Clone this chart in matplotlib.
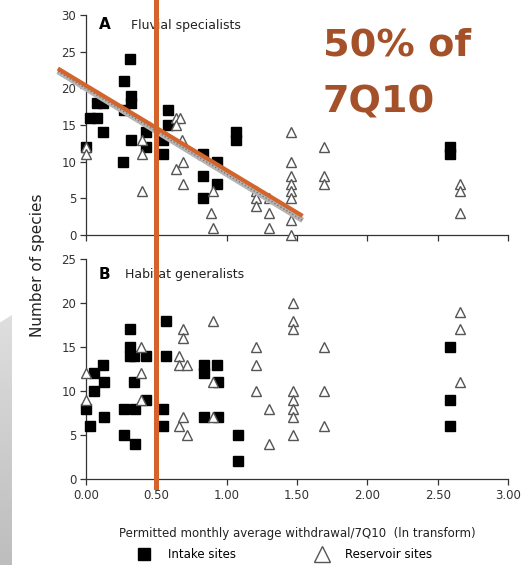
import matplotlib
matplotlib.use("Agg")
import matplotlib.pyplot as plt
import numpy as np
from matplotlib.lines import Line2D
from matplotlib.patches import Polygon
from matplotlib.transforms import blended_transform_factory

plt.rcParams["font.family"] = ["DejaVu Sans"]

# panel A: fluvial specialists
a_intake_x = [0.0, 0.03, 0.08, 0.08, 0.12, 0.12, 0.26, 0.27, 0.31, 0.32, 0.32, 0.27, 0.32,
              0.43, 0.43, 0.55, 0.55, 0.58, 0.58, 0.83, 0.83, 0.83, 0.93, 0.93, 1.07, 1.07,
              2.59, 2.59]
a_intake_y = [12, 16, 16, 18, 18, 14, 10, 21, 24, 19, 18, 17, 13,
              14, 12, 11, 13, 15, 17, 11, 8, 5, 10, 7, 14, 13,
              12, 11]
a_res_x = [0.0, 0.0, 0.40, 0.40, 0.40, 0.64, 0.67, 0.64, 0.68, 0.69, 0.64, 0.69,
           0.90, 0.89, 0.90, 1.21, 1.21, 1.21, 1.30, 1.30, 1.30,
           1.46, 1.46, 1.46, 1.46, 1.46, 1.46, 1.46, 1.46,
           1.69, 1.69, 1.69, 2.66, 2.66, 2.66]
a_res_y = [12, 11, 13, 11, 6, 16, 16, 15, 13, 10, 9, 7,
           6, 3, 1, 6, 5, 4, 5, 3, 1,
           14, 10, 8, 7, 6, 5, 2, 0,
           12, 8, 7, 7, 6, 3]

# panel B: habitat generalists
b_intake_x = [0.0, 0.03, 0.06, 0.06, 0.12, 0.13, 0.13, 0.27, 0.27, 0.31, 0.31, 0.31,
              0.34, 0.34, 0.35, 0.35, 0.43, 0.43, 0.55, 0.55, 0.57, 0.57,
              0.84, 0.84, 0.84, 0.93, 0.94, 0.94, 1.08, 1.08, 2.59, 2.59, 2.59]
b_intake_y = [8, 6, 12, 10, 13, 11, 7, 8, 5, 17, 15, 14,
              14, 11, 8, 4, 14, 9, 8, 6, 18, 14,
              13, 12, 7, 13, 11, 7, 5, 2, 15, 9, 6]
b_res_x = [0.0, 0.0, 0.39, 0.39, 0.39, 0.66, 0.66, 0.66, 0.69, 0.69, 0.69, 0.72, 0.72,
           0.90, 0.90, 0.90, 1.21, 1.21, 1.21, 1.30, 1.30,
           1.47, 1.47, 1.47, 1.47, 1.47, 1.47, 1.47, 1.47,
           1.69, 1.69, 1.69, 2.66, 2.66, 2.66]
b_res_y = [12, 9, 15, 12, 9, 14, 13, 6, 17, 16, 7, 13, 5,
           18, 11, 7, 15, 13, 10, 8, 4,
           20, 18, 17, 10, 9, 8, 7, 5,
           15, 10, 6, 19, 17, 11]

# regression band (grey) and the hand-drawn orange overlay in panel A
fit_x = [-0.2, 1.54]
fit_y = [22.3, 2.0]
orange_x = [-0.2, 1.54]
orange_y = [22.7, 2.6]
cutoff = 0.5

ORANGE = "#d2642c"
TEXT_ORANGE = "#a4512a"

fig = plt.figure(figsize=(5.23, 5.65), dpi=100)
axA = fig.add_axes([0.1644, 0.584, 0.8069, 0.3895])
axB = fig.add_axes([0.1644, 0.1522, 0.8069, 0.3894])

sq = dict(marker="s", color="black", markersize=7.5, linestyle="none", zorder=3)
tri = dict(marker="^", markerfacecolor="white", markeredgecolor="#555555",
           markeredgewidth=1.0, markersize=7, linestyle="none", zorder=4)

for ax, ymax in [(axA, 30), (axB, 25)]:
    ax.set_xlim(0, 3)
    ax.set_ylim(0, ymax)
    ax.set_xticks(np.arange(0, 3.01, 0.5))
    ax.set_yticks(np.arange(0, ymax + 1, 5))
    for s in ["top", "right"]:
        ax.spines[s].set_visible(False)
    for s in ["left", "bottom"]:
        ax.spines[s].set_color("#333333")
        ax.spines[s].set_linewidth(0.9)
    ax.tick_params(colors="#333333", labelsize=8.5, length=4, width=0.9, pad=3)
    ax.patch.set_alpha(0)

axA.tick_params(axis="x", labelbottom=False)
axB.set_xticklabels(["0.00", "0.50", "1.00", "1.50", "2.00", "2.50", "3.00"])

axA.plot(a_intake_x, a_intake_y, clip_on=False, **sq)
axA.plot(a_res_x, a_res_y, clip_on=False, **tri)
axB.plot(b_intake_x, b_intake_y, clip_on=False, **sq)
axB.plot(b_res_x, b_res_y, clip_on=False, **tri)

axA.plot(fit_x, fit_y, color="#b5b5b5", lw=4, clip_on=False, zorder=5,
         solid_capstyle="butt")
axA.plot(fit_x, fit_y, color="#777777", lw=1, ls=(0, (1, 1.5)), clip_on=False, zorder=5)
axA.plot(orange_x, orange_y, color=ORANGE, lw=3, clip_on=False, zorder=6,
         solid_capstyle="butt")

axA.text(0.03, 0.955, "A", transform=axA.transAxes, fontsize=11, fontweight="bold",
         va="center")
axA.text(0.107, 0.95, "Fluvial specialists", transform=axA.transAxes, fontsize=9,
         va="center", color="#222222")
axB.text(0.03, 0.93, "B", transform=axB.transAxes, fontsize=11, fontweight="bold",
         va="center")
axB.text(0.093, 0.93, "Habitat generalists", transform=axB.transAxes, fontsize=9,
         va="center", color="#222222")

fig.text(0.071, 0.53, "Number of species", rotation=90, fontsize=11, va="center",
         ha="center", color="#222222")
axB.set_xlabel("Permitted monthly average withdrawal/7Q10  (ln transform)",
               fontsize=8.5, color="#222222", labelpad=18)

# vertical cutoff line across both panels
vline = Line2D([cutoff, cutoff], [1 - 487 / 565, 1.0], color=ORANGE, lw=3.6,
               transform=blended_transform_factory(axB.transData, fig.transFigure),
               zorder=7)
fig.add_artist(vline)

fig.text(0.617, 1 - 55 / 565, "50% of", fontsize=27.5, fontweight="bold",
         color=TEXT_ORANGE, va="baseline")
fig.text(0.617, 1 - 112 / 565, "7Q10", fontsize=27.5, fontweight="bold",
         color=TEXT_ORANGE, va="baseline")

handles = [Line2D([], [], marker="s", color="black", markersize=9, linestyle="none"),
           Line2D([], [], marker="^", markerfacecolor="white", markeredgecolor="#555555",
                  markeredgewidth=1.0, markersize=11, linestyle="none")]
fig.legend(handles, ["Intake sites", "Reservoir sites"], ncol=2, frameon=False,
           loc="center", bbox_to_anchor=(0.54, 1 - 555 / 565), fontsize=8.5,
           columnspacing=6.3, handletextpad=1.0)

# grey slide decoration on the left edge
deco = fig.add_axes([0, 0, 12 / 523, 250 / 565])
deco.set_axis_off()
grad = np.linspace(0.74, 0.87, 100).reshape(-1, 1)
im = deco.imshow(grad, cmap="gray", vmin=0, vmax=1, aspect="auto",
                 extent=[0, 1, 0, 1], origin="lower")
clip = Polygon([[0, 0], [1, 0], [1, 1], [0, 0.97]], transform=deco.transData)
im.set_clip_path(clip)
deco.set_xlim(0, 1)
deco.set_ylim(0, 1)

fig.savefig("out.png", dpi=100)
